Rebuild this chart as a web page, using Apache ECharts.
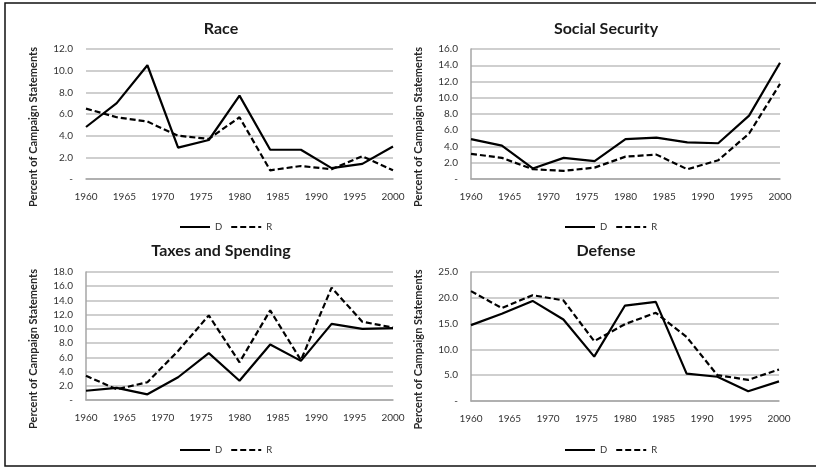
<!DOCTYPE html>
<html>
<head>
<meta charset="utf-8">
<script src="https://cdn.jsdelivr.net/npm/echarts@6/dist/echarts.min.js"></script>
<style>html,body{margin:0;padding:0;background:#fff;}#c{width:816px;height:468px;}</style>
</head>
<body>
<div id="c"></div>
<script>
const years = [1960,1964,1968,1972,1976,1980,1984,1988,1992,1996,2000];
const panelTitles = ['Race','Social Security','Taxes and Spending','Defense'];
const seriesNames = ['D','R'];
const yAxisTitle = 'Percent of Campaign Statements';
const raceD = [4.8,7.0,10.5,2.9,3.6,7.7,2.7,2.7,1.0,1.4,3.0];
const raceR = [6.5,5.7,5.3,4.0,3.7,5.7,0.8,1.2,0.9,2.1,0.8];
const ssD = [4.9,4.1,1.3,2.6,2.2,4.9,5.1,4.5,4.4,7.8,14.3];
const ssR = [3.1,2.6,1.2,1.0,1.4,2.75,3.0,1.2,2.3,5.6,11.7];
const taxD = [1.3,1.7,0.8,3.2,6.6,2.7,7.8,5.5,10.7,10.0,10.1];
const taxR = [3.4,1.5,2.5,6.9,11.9,5.3,12.6,5.6,15.8,11.0,10.2];
const defD = [14.7,16.9,19.4,15.8,8.6,18.5,19.2,5.3,4.7,1.9,3.8];
const defR = [21.3,18.0,20.5,19.5,11.6,14.9,17.1,12.4,5.0,4.1,6.1];
const yMax = [12,16,18,25];
const yInterval = [2,2,2,5];
const panelData = [[raceD,raceR],[ssD,ssR],[taxD,taxR],[defD,defR]];

const FONT = 'Lato';
const grids = [
  {left:86, top:49, width:307, height:130},
  {left:471, top:49, width:309, height:130},
  {left:86, top:272, width:307, height:128},
  {left:471, top:272, width:308, height:129}
];
const titleCenters = [[216,16],[601,16],[216,238],[601,238]];
const legendPos = [[174,217],[559,217],[174,440],[559,440]];
const showYLine = [false,true,true,true];

const chart = echarts.init(document.getElementById('c'), null, {renderer:'canvas'});
const option = {
  backgroundColor:'#fff',
  animation:false,
  textStyle:{fontFamily:FONT},
  title: panelTitles.map((t,i)=>({
    text:t, left:titleCenters[i][0], top:titleCenters[i][1], textAlign:'center',
    textStyle:{fontFamily:FONT, fontWeight:'bold', fontSize:16, color:'#1a1a1a'}
  })),
  legend: legendPos.map((p,i)=>({
    data:seriesNames, left:p[0], top:p[1],
    itemWidth:30, itemHeight:8, itemGap:8,
    itemStyle:{opacity:0},
    textStyle:{fontFamily:FONT, fontSize:9.5, color:'#333'},
    selectedMode:false
  })),
  grid: grids,
  xAxis: grids.map((g,i)=>({
    type:'value', gridIndex:i, min:1960, max:2000, interval:5,
    axisLine:{show:true, lineStyle:{color:'#a6a6a6', width:1.5}},
    axisTick:{show:false},
    splitLine:{show:false},
    axisLabel:{fontFamily:FONT, fontSize:10, color:'#333', margin:13,
      formatter:v=>String(v)}
  })),
  yAxis: grids.map((g,i)=>({
    type:'value', gridIndex:i, min:0, max:yMax[i], interval:yInterval[i],
    name:yAxisTitle, nameLocation:'middle', nameRotate:90, nameGap:47,
    nameTextStyle:{fontFamily:FONT, fontWeight:'bold', fontSize:11, color:'#262626', padding:[0,26,0,0]},
    axisLine:{show:showYLine[i], lineStyle:{color:'#a6a6a6', width:1.5}},
    axisTick:{show:false},
    splitLine:{show:true, lineStyle:{color:'#bfbfbf', width:1.5}},
    axisLabel:{fontFamily:FONT, fontSize:10, color:'#333', margin:13,
      formatter:v=> v===0 ? '-' : v.toFixed(1)}
  })),
  series: []
};
panelData.forEach((pair,i)=>{
  pair.forEach((vals,k)=>{
    option.series.push({
      type:'line', name:seriesNames[k], xAxisIndex:i, yAxisIndex:i,
      data: years.map((y,j)=>[y, vals[j]]),
      showSymbol:false, symbol:'none',
      lineStyle:{color:'#000', width:2.2, type: k===0 ? 'solid' : [6,3]},
      itemStyle:{color:'#000'}
    });
  });
});
option.graphic = [{
  type:'rect', shape:{x:5, y:3, width:830, height:463},
  style:{fill:'none', stroke:'#111', lineWidth:1.5}, silent:true, z:100
}];
chart.setOption(option);
</script>
</body>
</html>
